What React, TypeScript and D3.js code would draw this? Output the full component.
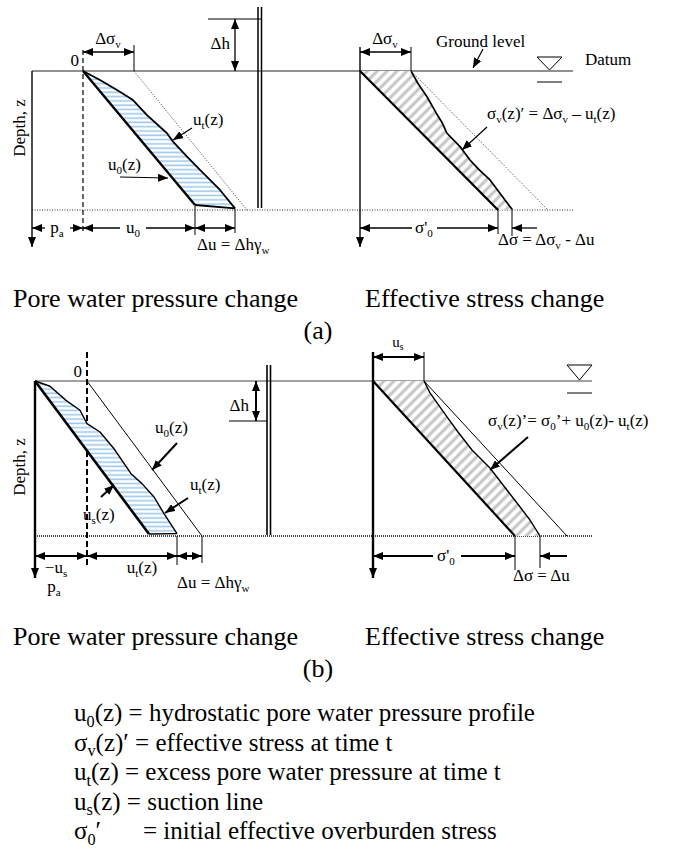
import React from "react";
import * as d3 from "d3";

type P = [number, number]; // [depth z (0 = ground, 1 = base), stress units]

// ---------- (a) pore water pressure change ----------
const aAtm = 51; // p_a offset of the gauge-zero line
const aDeltaSigV = 51; // Δσv applied at surface
const aDu = 40; // Δu = Δhγw
const aU0: P[] = [[0, 51], [0.964, 163]];
const aUt: P[] = [[0, 51], [0.065, 68], [0.137, 85], [0.209, 101], [0.317, 115], [0.448, 135], [0.508, 141], [0.616, 155], [0.712, 168], [0.856, 188], [0.988, 203]];
const aTotal: P[] = [[0, 102], [1, 215]];
// ---------- (a) effective stress change ----------
const aSig0: P[] = [[0, 0], [1, 138]];
const aSigV: P[] = [[0, 51], [0.09, 58], [0.185, 67], [0.3, 76], [0.37, 82], [0.448, 87], [0.544, 100], [0.64, 110], [0.71, 119], [0.784, 130], [0.9, 142], [0.995, 152]];
const aTotalR: P[] = [[0, 51], [1, 188]];
const aDsigArrowFrom = 177;

// ---------- (b) pore water pressure change ----------
const bAtm = 52; // -u_s
const bUs: P[] = [[0, 0], [0.987, 114]];
const bUt: P[] = [[0, 0], [0.034, 15], [0.125, 31], [0.189, 45], [0.275, 52], [0.329, 65], [0.437, 79], [0.598, 96], [0.662, 107], [0.748, 119], [0.856, 129], [0.985, 142]];
const bU0: P[] = [[0, 52], [1, 167]];
// ---------- (b) effective stress change ----------
const bUsR = 51;
const bSig0: P[] = [[0, 0], [1, 142]];
const bSigV: P[] = [[0, 51], [0.077, 57], [0.232, 74], [0.329, 85], [0.445, 99], [0.561, 117], [0.671, 130], [0.787, 144], [0.897, 157], [1, 167]];
const bTotalR: P[] = [[0, 51], [1, 194]];
const bDsigArrowFrom = 194;

const captions: string[] = ["Pore water pressure change", "Effective stress change"];
const panelTags: string[] = ["(a)", "(b)"];
const legendRows: string[] = [
  "u_0(z) = hydrostatic pore water pressure profile",
  "σ_v(z)′ = effective stress at time t",
  "u_t(z) = excess pore water pressure at time t",
  "u_s(z) = suction line",
];
const legendLast: [string, string] = ["σ_0′", "= initial effective overburden stress"];

const FONT = "'Liberation Serif', 'Times New Roman', serif";

function parseRich(s: string, fs: number) {
  const parts: { t: string; sub: boolean }[] = [];
  let i = 0;
  let buf = "";
  while (i < s.length) {
    if (s[i] === "_") {
      if (buf) parts.push({ t: buf, sub: false });
      buf = "";
      if (s[i + 1] === "{") {
        const j = s.indexOf("}", i);
        parts.push({ t: s.slice(i + 2, j), sub: true });
        i = j + 1;
      } else {
        parts.push({ t: s[i + 1], sub: true });
        i += 2;
      }
    } else {
      buf += s[i];
      i++;
    }
  }
  if (buf) parts.push({ t: buf, sub: false });
  let shifted = false;
  return parts.map((p, k) => {
    let dy: number | undefined;
    if (p.sub && !shifted) {
      dy = 0.22 * fs;
      shifted = true;
    } else if (!p.sub && shifted) {
      dy = -0.22 * fs;
      shifted = false;
    }
    return (
      <tspan key={k} dy={dy} fontSize={p.sub ? fs * 0.65 : undefined}>
        {p.t}
      </tspan>
    );
  });
}

const T = ({ x, y, s, fs = 17, anchor = "start" }: { x: number; y: number; s: string; fs?: number; anchor?: string }) => (
  <text x={x} y={y} fontSize={fs} textAnchor={anchor as any} style={{ whiteSpace: "pre" }} fill="#000">
    {parseRich(s, fs)}
  </text>
);

const Arr = ({ x1, y1, x2, y2, w = 1.3, s = false, e = true }: { x1: number; y1: number; x2: number; y2: number; w?: number; s?: boolean; e?: boolean }) => (
  <line
    x1={x1}
    y1={y1}
    x2={x2}
    y2={y2}
    stroke="#000"
    strokeWidth={w}
    markerStart={s ? "url(#ah)" : undefined}
    markerEnd={e ? "url(#ah)" : undefined}
  />
);

const L = ({ x1, y1, x2, y2, w = 1, dash, c = "#000" }: { x1: number; y1: number; x2: number; y2: number; w?: number; dash?: string; c?: string }) => (
  <line x1={x1} y1={y1} x2={x2} y2={y2} stroke={c} strokeWidth={w} strokeDasharray={dash} />
);

export default function App() {
  const yA = d3.scaleLinear().domain([0, 1]).range([71, 210]);
  const xAL = d3.scaleLinear().domain([0, 100]).range([32, 132]);
  const xAR = d3.scaleLinear().domain([0, 100]).range([360, 460]);
  const yB = d3.scaleLinear().domain([0, 1]).range([381, 536]);
  const xBL = d3.scaleLinear().domain([0, 100]).range([35, 135]);
  const xBR = d3.scaleLinear().domain([0, 100]).range([373, 473]);

  const mk = (xs: d3.ScaleLinear<number, number>, ys: d3.ScaleLinear<number, number>) =>
    d3
      .line<P>()
      .x((d) => xs(d[1]))
      .y((d) => ys(d[0]));
  const lAL = mk(xAL, yA);
  const lAR = mk(xAR, yA);
  const lBL = mk(xBL, yB);
  const lBR = mk(xBR, yB);

  const areaAL = lAL([...aU0, ...aUt.slice().reverse()]) + "Z";
  const areaAR = lAR([...aSig0, ...aSigV.slice().reverse()]) + "Z";
  const areaBL = lBL([...bUs, ...bUt.slice().reverse()]) + "Z";
  const areaBR = lBR([...bSig0, ...bSigV.slice().reverse()]) + "Z";

  const aU0End = aU0[aU0.length - 1];
  const aUtEnd = aUt[aUt.length - 1];
  const aSig0End = aSig0[aSig0.length - 1];
  const aSigVEnd = aSigV[aSigV.length - 1];
  const bUsEnd = bUs[bUs.length - 1];
  const bUtEnd = bUt[bUt.length - 1];
  const bU0End = bU0[bU0.length - 1];
  const bSig0End = bSig0[bSig0.length - 1];
  const bSigVEnd = bSigV[bSigV.length - 1];

  const dimA = 228;
  const dimB = 556;

  return (
    <svg width={681} height={849} style={{ position: "absolute", left: 0, top: 0, background: "#fff" }} fontFamily={FONT}>
      <defs>
        <marker id="ah" viewBox="0 0 10 8" refX={10} refY={4} markerWidth={10} markerHeight={8} markerUnits="userSpaceOnUse" orient="auto-start-reverse">
          <path d="M0,0L10,4L0,8Z" fill="#000" />
        </marker>
        <pattern id="blueH" patternUnits="userSpaceOnUse" width={6} height={4.3}>
          <rect width={6} height={4.3} fill="#fff" />
          <line x1={0} y1={2} x2={6} y2={2} stroke="#9ec9ee" strokeWidth={1.6} />
        </pattern>
        <pattern id="grayD" patternUnits="userSpaceOnUse" width={7} height={7} patternTransform="rotate(45)">
          <rect width={7} height={7} fill="#fff" />
          <line x1={2} y1={0} x2={2} y2={7} stroke="#c4c4c4" strokeWidth={3} />
        </pattern>
      </defs>

      {/* ===================== (a) ===================== */}
      <L x1={xAL(0)} y1={yA(0)} x2={573} y2={yA(0)} w={1} c="#222" />
      <L x1={xAL(0)} y1={yA(1)} x2={573} y2={yA(1)} w={1.1} dash="1,1.5" c="#333" />

      {/* left: pore pressure */}
      <Arr x1={xAL(0)} y1={yA(0)} x2={xAL(0)} y2={247} w={1.4} />
      <L x1={xAL(aAtm)} y1={50} x2={xAL(aAtm)} y2={233} w={1.2} dash="5,3" />
      <text x={79} y={66} fontSize={17} textAnchor="end">0</text>
      <Arr x1={xAL(aAtm)} y1={52} x2={xAL(aAtm + aDeltaSigV)} y2={52} s />
      <L x1={xAL(aAtm + aDeltaSigV)} y1={45} x2={xAL(aAtm + aDeltaSigV)} y2={yA(0)} />
      <T x={108} y={44} s="Δσ_v" anchor="middle" />

      <path d={areaAL} fill="url(#blueH)" stroke="none" />
      <path d={lAL(aU0)!} fill="none" stroke="#000" strokeWidth={2.4} />
      <path d={lAL(aUt)!} fill="none" stroke="#000" strokeWidth={1.8} strokeLinejoin="round" />
      <L x1={xAL(aU0End[1])} y1={yA(aU0End[0])} x2={xAL(aUtEnd[1])} y2={yA(aUtEnd[0])} w={1.8} />
      <path d={lAL(aTotal)!} fill="none" stroke="#333" strokeWidth={0.9} strokeDasharray="1,1.5" />

      <T x={193} y={125} s="u_t(z)" />
      <Arr x1={192} y1={128} x2={173} y2={140} w={1.2} />
      <T x={108} y={170} s="u_0(z)" />
      <Arr x1={120} y1={177} x2={168} y2={178} w={1.2} />

      {/* Δh and standpipe */}
      <L x1={208} y1={19} x2={261} y2={19} />
      <Arr x1={235} y1={19} x2={235} y2={yA(0)} s w={1.3} />
      <T x={230} y={49} s="Δh" anchor="end" />
      <L x1={258} y1={7} x2={258} y2={208} w={1.5} />
      <L x1={261.5} y1={7} x2={261.5} y2={208} w={1.5} />

      {/* bottom dimensions (a) left */}
      <Arr x1={45} y1={dimA} x2={xAL(0)} y2={dimA} />
      <Arr x1={70} y1={dimA} x2={xAL(aAtm)} y2={dimA} />
      <T x={57} y={233} s="p_a" anchor="middle" />
      <Arr x1={120} y1={dimA} x2={xAL(aAtm)} y2={dimA} />
      <Arr x1={146} y1={dimA} x2={xAL(aU0End[1])} y2={dimA} />
      <T x={133} y={233} s="u_0" anchor="middle" />
      <L x1={xAL(aU0End[1])} y1={yA(0.97)} x2={xAL(aU0End[1])} y2={235} />
      <L x1={xAL(aU0End[1] + aDu)} y1={yA(0.99)} x2={xAL(aU0End[1] + aDu)} y2={233} />
      <Arr x1={xAL(aU0End[1])} y1={dimA} x2={xAL(aU0End[1] + aDu)} y2={dimA} s />
      <T x={197} y={250} s="Δu = Δhγ_w" />
      <g transform="translate(25,128) rotate(-90)">
        <text x={0} y={0} fontSize={17} textAnchor="middle">Depth, z</text>
      </g>

      {/* right: effective stress */}
      <Arr x1={xAR(0)} y1={47} x2={xAR(0)} y2={247} w={1.4} />
      <Arr x1={xAR(0)} y1={52} x2={xAR(aDeltaSigV)} y2={52} s />
      <L x1={xAR(aDeltaSigV)} y1={47} x2={xAR(aDeltaSigV)} y2={yA(0)} />
      <T x={385} y={44} s="Δσ_v" anchor="middle" />
      <path d={areaAR} fill="url(#grayD)" stroke="none" />
      <path d={lAR(aSig0)!} fill="none" stroke="#000" strokeWidth={2.2} />
      <path d={lAR(aSigV)!} fill="none" stroke="#000" strokeWidth={1.7} strokeLinejoin="round" />
      <path d={lAR(aTotalR)!} fill="none" stroke="#333" strokeWidth={0.9} strokeDasharray="1,1.5" />
      <T x={487} y={119} s="σ_v(z)′ = Δσ_v – u_t(z)" />
      <Arr x1={487} y1={127} x2={462} y2={150} w={1.2} />
      <text x={436} y={47} fontSize={17}>Ground level</text>
      <Arr x1={483} y1={49} x2={473} y2={68} w={1.2} />
      <path d="M537,57L562,57L549.5,70Z" fill="#fff" stroke="#000" strokeWidth={1} />
      <L x1={537} y1={82} x2={562} y2={82} />
      <text x={585} y={65} fontSize={17}>Datum</text>

      <Arr x1={412} y1={dimA} x2={xAR(0)} y2={dimA} />
      <Arr x1={437} y1={dimA} x2={xAR(aSig0End[1])} y2={dimA} />
      <T x={424} y={233} s="σ'_0" anchor="middle" />
      <L x1={xAR(aSig0End[1])} y1={yA(0.99)} x2={xAR(aSig0End[1])} y2={234} />
      <L x1={xAR(aSigVEnd[1])} y1={yA(0.99)} x2={xAR(aSigVEnd[1])} y2={236} />
      <Arr x1={xAR(aDsigArrowFrom)} y1={dimA} x2={xAR(aSigVEnd[1])} y2={dimA} />
      <T x={498} y={245} s="Δσ = Δσ_v - Δu" />

      {/* captions (a) */}
      <text x={13} y={307} fontSize={26}>{captions[0]}</text>
      <text x={365} y={307} fontSize={26}>{captions[1]}</text>
      <text x={318} y={339} fontSize={26} textAnchor="middle">{panelTags[0]}</text>

      {/* ===================== (b) ===================== */}
      <L x1={xBL(0)} y1={yB(0)} x2={592} y2={yB(0)} w={1} c="#444" />
      <L x1={xBL(0)} y1={yB(1)} x2={592} y2={yB(1)} w={2} dash="1,1" c="#444" />

      <Arr x1={xBL(0)} y1={yB(0)} x2={xBL(0)} y2={578} w={2.4} />
      <L x1={xBL(bAtm)} y1={352} x2={xBL(bAtm)} y2={565} w={2} dash="6,3" />
      <text x={82} y={377} fontSize={17} textAnchor="end">0</text>

      <path d={areaBL} fill="url(#blueH)" stroke="none" />
      <path d={lBL(bUs)!} fill="none" stroke="#000" strokeWidth={2.6} />
      <path d={lBL(bUt)!} fill="none" stroke="#000" strokeWidth={1.4} strokeLinejoin="round" />
      <L x1={xBL(bUsEnd[1])} y1={yB(bUsEnd[0])} x2={xBL(bUtEnd[1])} y2={yB(bUtEnd[0])} w={1.4} />
      <path d={lBL(bU0)!} fill="none" stroke="#000" strokeWidth={1} />

      <T x={155} y={433} s="u_0(z)" />
      <Arr x1={177} y1={443} x2={152} y2={470} w={2} />
      <T x={190} y={490} s="u_t(z)" />
      <Arr x1={188} y1={498} x2={165} y2={513} w={2} />
      <T x={83} y={520} s="u_s(z)" />
      <Arr x1={101} y1={497} x2={114} y2={485} w={2} />

      <L x1={229} y1={421} x2={267} y2={421} />
      <Arr x1={256} y1={yB(0)} x2={256} y2={421} s w={2} />
      <T x={249} y={411} s="Δh" anchor="end" />
      <L x1={267} y1={365} x2={267} y2={535} w={1.6} />
      <L x1={270.5} y1={365} x2={270.5} y2={535} w={1.6} />

      <Arr x1={xBL(0)} y1={dimB} x2={xBL(bAtm)} y2={dimB} s w={2} />
      <Arr x1={xBL(bAtm)} y1={dimB} x2={xBL(bUtEnd[1])} y2={dimB} s w={2} />
      <Arr x1={xBL(bUtEnd[1])} y1={dimB} x2={xBL(bU0End[1])} y2={dimB} s w={2} />
      <L x1={xBL(bUtEnd[1])} y1={yB(1)} x2={xBL(bUtEnd[1])} y2={565} />
      <L x1={xBL(bU0End[1])} y1={yB(1)} x2={xBL(bU0End[1])} y2={563} />
      <T x={56} y={573} s="−u_s" anchor="middle" />
      <T x={142} y={573} s="u_t(z)" anchor="middle" />
      <T x={54} y={592} s="p_a" anchor="middle" />
      <T x={177} y={588} s="Δu = Δhγ_w" />
      <g transform="translate(25,467) rotate(-90)">
        <text x={0} y={0} fontSize={17} textAnchor="middle">Depth, z</text>
      </g>

      {/* right (b) */}
      <Arr x1={xBR(0)} y1={352} x2={xBR(0)} y2={578} w={2.4} />
      <Arr x1={xBR(0)} y1={357} x2={xBR(bUsR)} y2={357} s w={2} />
      <L x1={xBR(bUsR)} y1={352} x2={xBR(bUsR)} y2={yB(0)} />
      <T x={398} y={347} s="u_s" anchor="middle" fs={15} />
      <path d={areaBR} fill="url(#grayD)" stroke="none" />
      <path d={lBR(bSig0)!} fill="none" stroke="#000" strokeWidth={2.2} />
      <path d={lBR(bSigV)!} fill="none" stroke="#000" strokeWidth={1.4} strokeLinejoin="round" />
      <path d={lBR(bTotalR)!} fill="none" stroke="#000" strokeWidth={1} />
      <T x={488} y={426} s="σ_v(z)’= σ_0’+ u_0(z)- u_t(z)" />
      <Arr x1={528} y1={437} x2={490} y2={470} w={2} />
      <path d="M567,365L592,365L579.5,380Z" fill="#fff" stroke="#000" strokeWidth={1} />
      <L x1={567} y1={393} x2={592} y2={393} />

      <Arr x1={433} y1={dimB} x2={xBR(0)} y2={dimB} w={2} />
      <Arr x1={461} y1={dimB} x2={xBR(bSig0End[1])} y2={dimB} w={2} />
      <T x={446} y={561} s="σ'_0" anchor="middle" />
      <L x1={xBR(bSig0End[1])} y1={yB(1)} x2={xBR(bSig0End[1])} y2={570} />
      <L x1={xBR(bSigVEnd[1])} y1={yB(1)} x2={xBR(bSigVEnd[1])} y2={568} />
      <Arr x1={xBR(bDsigArrowFrom)} y1={dimB} x2={xBR(bSigVEnd[1])} y2={dimB} w={2} />
      <T x={513} y={581} s="Δσ = Δu" />

      {/* captions (b) */}
      <text x={13} y={645} fontSize={26}>{captions[0]}</text>
      <text x={365} y={645} fontSize={26}>{captions[1]}</text>
      <text x={318} y={677} fontSize={26} textAnchor="middle">{panelTags[1]}</text>

      {/* legend */}
      {legendRows.map((r, i) => (
        <T key={i} x={74} y={721 + i * 29.5} s={r} fs={25} />
      ))}
      <T x={74} y={721 + 4 * 29.5} s={legendLast[0]} fs={25} />
      <text x={143} y={721 + 4 * 29.5} fontSize={25}>{legendLast[1]}</text>
    </svg>
  );
}
